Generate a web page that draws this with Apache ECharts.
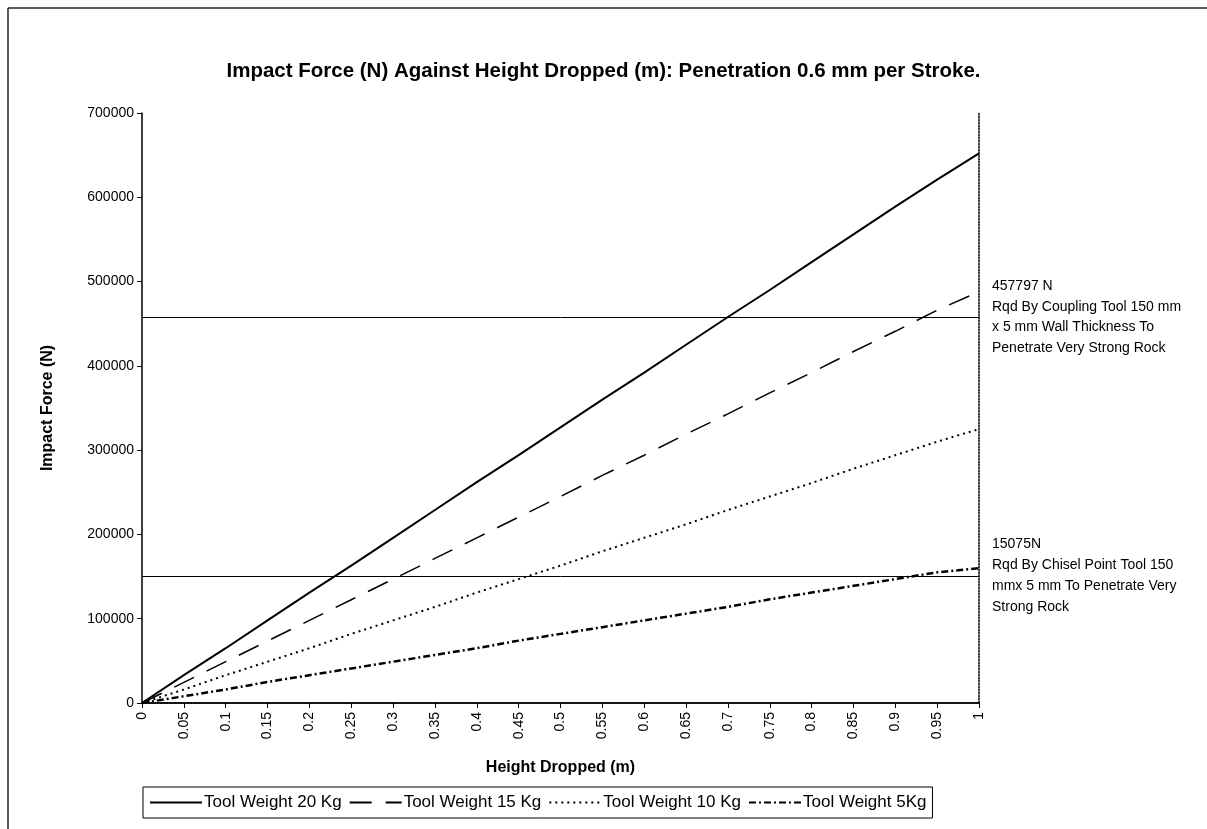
<!DOCTYPE html>
<html>
<head>
<meta charset="utf-8">
<script src="https://cdn.jsdelivr.net/npm/echarts@6/dist/echarts.min.js"></script>
<style>html,body{margin:0;padding:0;background:#fff}#c{width:1207px;height:829px}</style>
</head>
<body>
<div id="c"></div>
<script>
const heights = ['0','0.05','0.1','0.15','0.2','0.25','0.3','0.35','0.4','0.45','0.5','0.55','0.6','0.65','0.7','0.75','0.8','0.85','0.9','0.95','1'];
const tool20 = [0,33000,65000,98000,131000,163000,196000,229000,262000,294000,327000,360000,392000,425000,458000,490000,523000,556000,589000,621000,652000];
const tool15 = [0,24500,49000,73500,98000,122500,147000,171500,196000,220500,245000,270000,294000,319000,343000,368000,392000,417000,441000,466000,488000];
const tool10 = [0,16000,33000,49000,65000,82000,98000,114000,131000,147000,163000,180000,196000,212000,229000,245000,261000,278000,294000,310000,325000];
const tool5  = [0,8000,16000,25000,33000,41000,49000,57000,65000,74000,82000,90000,98000,106000,114000,123000,131000,139000,147000,155000,160000];
const refCoupling = 457797;
const refChisel = 150750;
const seriesNames = ['Tool Weight 20 Kg','Tool Weight 15 Kg','Tool Weight 10 Kg','Tool Weight 5Kg'];
const noteCoupling = ['457797 N','Rqd By Coupling Tool 150 mm','x 5 mm Wall Thickness To','Penetrate Very Strong Rock'];
const noteChisel = ['15075N','Rqd By Chisel Point Tool 150','mmx 5 mm To Penetrate Very','Strong Rock'];

const FONT = '"Liberation Sans", Arial, sans-serif';
const chart = echarts.init(document.getElementById('c'), null, {renderer:'canvas'});
chart.setOption({
  animation: false,
  backgroundColor: '#fff',
  textStyle: {fontFamily: FONT, color: '#000'},
  title: {
    text: 'Impact Force (N) Against Height Dropped (m): Penetration 0.6 mm per Stroke.',
    left: 'center', top: 56,
    textStyle: {fontFamily: FONT, fontSize: 20.5, fontWeight: 'bold', color: '#000'}
  },
  grid: {left: 142, right: 228, top: 113, bottom: 126, containLabel: false},
  xAxis: [{
    type: 'category', data: heights, boundaryGap: false,
    name: 'Height Dropped (m)', nameLocation: 'middle', nameGap: 57,
    nameTextStyle: {fontFamily: FONT, fontSize: 16, fontWeight: 'bold', color: '#000'},
    axisLine: {lineStyle: {color: '#000', width: 1.5}},
    axisTick: {show: true, alignWithLabel: true, length: 5, lineStyle: {color: '#000'}},
    axisLabel: {rotate: 90, fontSize: 14, color: '#000', fontFamily: FONT, margin: 9, interval: 0},
    splitLine: {show: false}
  },{
    type: 'category', data: heights, boundaryGap: false, position: 'top',
    axisLine: {lineStyle: {color: '#000', width: 1.5, type: 'dotted'}},
    axisTick: {show: false}, axisLabel: {show: false}, splitLine: {show: false}
  }],
  yAxis: [{
    type: 'value', min: 0, max: 700000, interval: 100000,
    name: 'Impact Force (N)', nameLocation: 'middle', nameGap: 86,
    nameTextStyle: {fontFamily: FONT, fontSize: 16, fontWeight: 'bold', color: '#000'},
    axisLine: {show: true, lineStyle: {color: '#000', width: 1.5}},
    axisTick: {show: true, length: 5, lineStyle: {color: '#000'}},
    axisLabel: {fontSize: 14, color: '#000', fontFamily: FONT, margin: 8, formatter: v => String(v)},
    splitLine: {show: false}
  },{
    type: 'value', min: 0, max: 700000, interval: 100000, position: 'right',
    axisLine: {show: true, lineStyle: {color: '#000', width: 1.5, type: 'dotted'}},
    axisTick: {show: false}, axisLabel: {show: false}, splitLine: {show: false}
  }],
  legend: {
    data: seriesNames, left: 143, top: 787, width: 900,
    itemWidth: 52, itemHeight: 14, itemGap: 7,
    itemStyle: {opacity: 0},
    borderColor: '#000', borderWidth: 1, padding: [7, 6],
    textStyle: {fontFamily: FONT, fontSize: 17, color: '#000', padding: [0,0,0,-3]}
  },
  series: [
    {name: seriesNames[0], type: 'line', data: tool20, symbol: 'none', color: '#000',
     lineStyle: {color: '#000', width: 2, type: 'solid'},
     markLine: {silent: true, symbol: 'none', label: {show: false},
       lineStyle: {color: '#000', width: 1, type: 'solid'},
       data: [{yAxis: refCoupling}, {yAxis: refChisel}]}},
    {name: seriesNames[1], type: 'line', data: tool15, symbol: 'none', color: '#000',
     lineStyle: {color: '#000', width: 1.5, type: [22, 14]}},
    {name: seriesNames[2], type: 'line', data: tool10, symbol: 'none', color: '#000',
     lineStyle: {color: '#000', width: 2, type: [2, 4]}},
    {name: seriesNames[3], type: 'line', data: tool5, symbol: 'none', color: '#000',
     lineStyle: {color: '#000', width: 2.5, type: [7, 3, 2, 3]}}
  ],
  graphic: [
    {type: 'line', shape: {x1: 8, y1: 8, x2: 1207, y2: 8}, style: {stroke: '#222', lineWidth: 1.5}},
    {type: 'line', shape: {x1: 8, y1: 8, x2: 8, y2: 829}, style: {stroke: '#222', lineWidth: 1.5}},
    {type: 'text', left: 992, top: 276, style: {text: noteCoupling.join('\n'), font: '14px ' + FONT, fill: '#000', lineHeight: 20.5}},
    {type: 'text', left: 992, top: 534, style: {text: noteChisel.join('\n'), font: '14px ' + FONT, fill: '#000', lineHeight: 21}}
  ]
});
</script>
</body>
</html>
